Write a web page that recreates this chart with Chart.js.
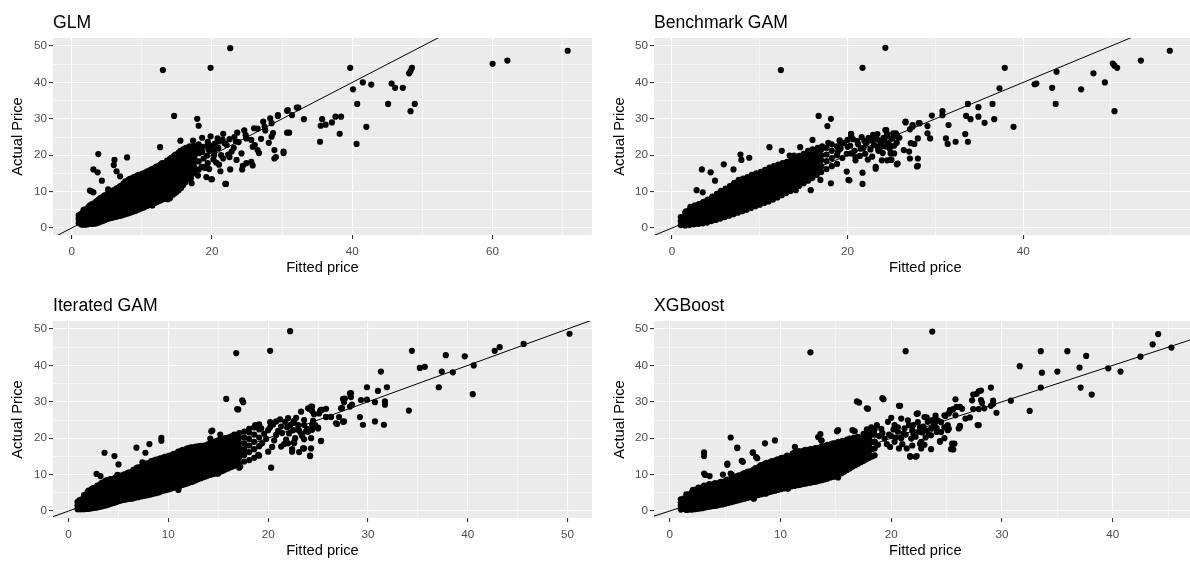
<!DOCTYPE html>
<html>
<head>
<meta charset="utf-8">
<script src="https://cdn.jsdelivr.net/npm/chart.js@4.4.1/dist/chart.umd.min.js"></script>
<style>
html,body{margin:0;padding:0;background:#fff;overflow:hidden;width:1190px;height:563px;position:relative}
.panel{position:absolute}
.panel canvas{display:block}
</style>
</head>
<body>
<div class="panel" style="left:0;top:0"><canvas id="glm" width="595" height="283"></canvas></div>
<div class="panel" style="left:595px;top:0"><canvas id="gam" width="610" height="283"></canvas></div>
<div class="panel" style="left:0;top:283px"><canvas id="iter" width="595" height="283"></canvas></div>
<div class="panel" style="left:595px;top:283px"><canvas id="xgb" width="610" height="283"></canvas></div>
<script>
// fitted vs actual price, one [fitted, actual] pair per point

const glmPoints = [
  // dense band
  [1.0,1.4],[1.0,2.5],[1.0,3.5],
  [1.3,1.0],[1.3,2.4],[1.3,3.8],
  [1.6,0.9],[1.6,2.0],[1.6,3.2],[1.6,4.4],[1.7,5.0],
  [1.95,0.9],[1.95,2.3],[1.95,3.7],[1.95,5.1],
  [2.3,1.0],[2.3,2.3],[2.2,3.5],[2.3,4.6],[2.4,5.8],
  [2.6,1.1],[2.6,2.5],[2.6,3.9],[2.6,5.3],[2.6,6.2],
  [2.9,1.2],[2.9,1.9],[2.8,3.1],[2.9,4.3],[3.0,5.5],[2.9,6.6],
  [3.2,1.2],[3.2,2.6],[3.2,4.0],[3.2,5.4],[3.2,6.8],
  [3.5,1.3],[3.5,2.5],[3.4,3.7],[3.5,4.9],[3.6,6.1],[3.5,7.3],
  [3.85,1.5],[3.85,2.9],[3.85,4.3],[3.85,5.7],[3.85,7.1],[3.85,7.8],
  [4.2,1.8],[4.2,3.0],[4.1,4.2],[4.2,5.4],[4.3,6.6],[4.2,7.8],[4.1,8.3],
  [4.5,2.0],[4.5,3.4],[4.5,4.8],[4.5,6.2],[4.5,7.6],[4.5,8.6],
  [4.8,2.3],[4.8,3.5],[4.7,4.7],[4.8,5.9],[4.9,7.1],[4.8,8.3],[4.7,9.0],
  [5.1,2.5],[5.1,3.9],[5.1,5.3],[5.1,6.7],[5.1,8.1],[5.1,9.4],
  [5.4,2.7],[5.4,3.9],[5.3,5.1],[5.4,6.3],[5.5,7.5],[5.4,8.7],[5.3,9.8],
  [5.75,2.8],[5.75,4.2],[5.75,5.6],[5.75,7.0],[5.75,8.4],[5.75,9.8],[5.75,10.1],
  [6.1,3.0],[6.1,4.3],[6.0,5.5],[6.1,6.7],[6.2,7.9],[6.1,9.1],[6.0,10.4],
  [6.4,3.1],[6.4,4.5],[6.4,5.9],[6.4,7.3],[6.4,8.7],[6.4,10.1],[6.4,10.9],
  [6.7,3.3],[6.7,4.8],[6.6,6.0],[6.7,7.2],[6.8,8.4],[6.7,9.6],[6.6,10.8],[6.8,11.3],
  [7.0,3.4],[7.0,4.8],[7.0,6.2],[7.0,7.6],[7.0,9.0],[7.0,10.4],[7.0,11.6],
  [7.3,3.6],[7.3,4.6],[7.2,5.8],[7.3,7.0],[7.4,8.2],[7.3,9.4],[7.2,10.6],[7.3,11.8],[7.4,12.3],
  [7.65,3.8],[7.65,5.2],[7.65,6.6],[7.65,8.0],[7.65,9.4],[7.65,10.8],[7.65,12.2],[7.65,12.8],
  [8.0,4.0],[8.0,5.1],[7.9,6.3],[8.0,7.5],[8.1,8.7],[8.0,9.9],[7.9,11.1],[8.0,12.3],[8.1,13.2],
  [8.3,4.2],[8.3,5.6],[8.3,7.0],[8.3,8.4],[8.3,9.8],[8.3,11.2],[8.3,12.6],[8.3,13.5],
  [8.6,4.4],[8.6,5.6],[8.5,6.8],[8.6,8.0],[8.7,9.2],[8.6,10.4],[8.5,11.6],[8.6,12.8],[8.7,13.8],
  [8.9,4.6],[8.9,6.0],[8.9,7.4],[8.9,8.8],[8.9,10.2],[8.9,11.6],[8.9,13.0],[8.9,14.0],
  [9.2,4.8],[9.2,5.9],[9.1,7.1],[9.2,8.3],[9.3,9.5],[9.2,10.7],[9.1,11.9],[9.2,13.1],[9.3,14.3],
  [9.55,5.1],[9.55,6.5],[9.55,7.9],[9.55,9.3],[9.55,10.7],[9.55,12.1],[9.55,13.5],[9.55,14.6],
  [9.9,5.4],[9.9,6.6],[9.8,7.8],[9.9,9.0],[10.0,10.2],[9.9,11.4],[9.8,12.6],[9.9,13.8],[10.0,14.8],
  [10.2,5.6],[10.2,7.0],[10.2,8.4],[10.2,9.8],[10.2,11.2],[10.2,12.6],[10.2,14.0],[10.2,15.0],
  [10.5,5.9],[10.5,7.0],[10.4,8.2],[10.5,9.4],[10.6,10.6],[10.5,11.8],[10.4,13.0],[10.5,14.2],[10.6,15.3],
  [10.8,6.1],[10.8,7.5],[10.8,8.9],[10.8,10.3],[10.8,11.7],[10.8,13.1],[10.8,14.5],[10.8,15.6],
  [11.1,6.4],[11.1,7.6],[11.0,8.8],[11.1,10.0],[11.2,11.2],[11.1,12.4],[11.0,13.6],[11.1,14.8],[11.2,15.9],
  [11.45,6.6],[11.45,8.0],[11.45,9.4],[11.45,10.8],[11.45,12.2],[11.45,13.6],[11.45,15.0],[11.45,16.2],
  [11.8,6.9],[11.8,8.0],[11.7,9.2],[11.8,10.4],[11.9,11.6],[11.8,12.8],[11.7,14.0],[11.8,15.2],[11.9,16.6],
  [12.1,7.1],[12.1,8.5],[12.1,9.9],[12.1,11.3],[12.1,12.7],[12.1,14.1],[12.1,15.5],[12.1,16.9],
  [12.4,7.4],[12.4,8.6],[12.3,9.8],[12.4,11.0],[12.5,12.2],[12.4,13.4],[12.3,14.6],[12.4,15.8],[12.5,17.2],
  [12.7,7.6],[12.7,9.0],[12.7,10.4],[12.7,11.8],[12.7,13.2],[12.7,14.6],[12.7,16.0],[12.7,17.4],
  [13.0,7.9],[13.0,9.0],[12.9,10.2],[13.0,11.4],[13.1,12.6],[13.0,13.8],[12.9,15.0],[13.0,16.2],[13.1,17.4],[12.9,17.8],
  [13.35,8.1],[13.35,9.5],[13.35,10.9],[13.35,12.3],[13.35,13.7],[13.35,15.1],[13.35,16.5],[13.35,17.9],
  [13.7,8.4],[13.7,9.6],[13.6,10.8],[13.7,12.0],[13.8,13.2],[13.7,14.4],[13.6,15.6],[13.7,16.8],[13.8,18.0],[13.6,18.5],
  [14.0,8.7],[14.0,10.1],[14.0,11.5],[14.0,12.9],[14.0,14.3],[14.0,15.7],[14.0,17.1],[14.0,18.5],[14.0,18.9],
  [14.3,9.0],[14.3,10.1],[14.2,11.3],[14.3,12.5],[14.4,13.7],[14.3,14.9],[14.2,16.1],[14.3,17.3],[14.4,18.5],[14.2,19.3],
  [14.6,9.4],[14.6,10.8],[14.6,12.2],[14.6,13.6],[14.6,15.0],[14.6,16.4],[14.6,17.8],[14.6,19.2],[14.6,19.8],
  [14.9,9.8],[14.9,11.0],[14.8,12.2],[14.9,13.4],[15.0,14.6],[14.9,15.8],[14.8,17.0],[14.9,18.2],[15.0,19.4],[14.8,20.2],
  [15.25,10.4],[15.25,11.8],[15.25,13.2],[15.25,14.6],[15.25,16.0],[15.25,17.4],[15.25,18.8],[15.25,20.2],[15.25,20.7],
  [15.6,11.0],[15.6,11.8],[15.5,13.0],[15.6,14.2],[15.7,15.4],[15.6,16.6],[15.5,17.8],[15.6,19.0],[15.7,20.2],[15.5,21.2],
  [15.9,11.8],[15.9,13.2],[15.9,14.6],[15.9,16.0],[15.9,17.4],[15.9,18.8],[15.9,20.2],[15.9,21.6],
  [16.2,12.6],[16.2,13.8],[16.1,15.0],[16.2,16.2],[16.3,17.4],[16.2,18.6],[16.1,19.8],[16.2,21.0],[16.3,22.0],
  [16.5,13.4],[16.5,14.8],[16.5,16.2],[16.5,17.6],[16.5,19.0],[16.5,20.4],[16.5,21.8],
  [16.8,14.2],[16.8,15.2],[16.7,16.4],[16.8,17.6],[16.9,18.8],[16.8,20.0],[16.7,21.2],[16.8,22.4],
  [17.15,14.8],[17.15,16.2],[17.15,17.6],[17.15,19.0],[17.15,20.4],[17.15,21.8],
  [17.5,15.4],[17.5,16.6],[17.4,17.8],[17.5,19.0],[17.6,20.2],[17.5,21.4],[17.4,22.6],
  [18.1,16.0],[18.1,18.3],[18.2,20.6],[18.0,21.8],[18.1,23.0],
  [18.7,16.8],[18.8,19.1],[18.6,20.9],[18.7,22.3],
  [19.4,17.8],[19.3,19.9],[19.5,21.6],[19.4,23.0],
  // scattered
  [17.3,24.0],[18.6,24.8],[19.8,25.2],[20.4,23.2],[20.9,22.0],[21.5,24.3],[19.7,21.2],[20.2,18.8],
  [21.0,17.4],[22.3,20.2],[23.4,23.8],[17.0,13.6],[19.6,16.2],[21.2,15.6],
  [22.6,49.4],[13.0,43.4],[19.8,44.0],[14.6,30.8],[17.9,30.0],[18.1,28.1],
  [3.8,20.3],[7.9,19.4],[3.1,16.1],[3.7,15.3],[4.3,13.0],[2.6,10.3],[3.1,9.8],[6.1,18.7],[6.0,17.3],
  [6.4,15.6],[6.9,14.2],[5.2,10.6],[2.8,10.1],[12.6,22.2],[15.5,24.0],[14.0,8.2],[11.4,6.3],
  [19.9,13.4],[22.0,12.1],[17.1,12.3],[18.5,16.7],[18.0,14.4],[19.2,14.0],[16.6,15.0],
  [21.6,25.9],[23.2,25.0],[24.6,26.8],[26.0,27.4],[27.3,29.2],[28.5,28.8],[29.4,31.0],[30.8,32.4],
  [32.1,33.1],[30.7,26.2],[30.2,21.0],[28.9,19.1],[28.9,21.4],[28.5,25.1],[26.5,21.4],[26.7,20.6],
  [25.6,18.2],[24.9,17.8],[24.4,17.1],[23.5,18.7],[22.6,16.1],[21.3,20.0],[20.4,21.4],[19.4,23.7],
  [20.0,22.6],[21.8,23.3],[23.1,22.0],[25.6,24.2],[26.1,22.8],[24.8,25.5],[22.5,24.4],[24.2,20.5],
  [21.6,19.1],[22.8,21.0],[20.8,24.6],[23.8,23.6],[27.0,24.5],[27.6,26.8],[28.1,23.4],[28.7,26.1],
  [29.1,19.5],[30.2,20.6],[25.8,22.3],[24.9,24.6],[22.5,19.5],[24.3,16.1],[25.8,17.2],[29.4,30.8],
  [28.3,30.1],[27.5,27.8],[26.5,27.3],[31.4,31.0],[30.7,32.2],[21.9,12.1],[20.0,13.4],[13.7,7.9],
  [11.5,6.2],[20.6,18.0],[19.0,16.5],[22.1,22.8],[23.6,26.2],[21.0,23.8],[20.3,20.0],
  [70.7,48.7],[60.0,45.1],[62.1,46.0],[39.7,44.0],[48.1,42.5],[48.3,43.1],[48.5,44.0],[41.5,40.0],
  [42.7,39.4],[40.1,38.1],[45.6,39.7],[46.1,38.5],[47.2,38.5],[40.7,34.1],[45.1,34.1],[48.9,34.1],
  [48.3,32.1],[42.0,27.8],[40.6,23.1],[38.2,25.9],[35.4,23.7],[35.5,28.1],[35.7,29.9],[36.2,28.4],
  [37.1,29.0],[37.6,30.6],[38.4,30.6],[33.1,29.9],[32.3,33.1],[31.0,26.2]
];

const gamPoints = [
  // dense band
  [1.0,0.8],[1.0,1.9],[1.0,3.0],
  [1.5,0.7],[1.5,1.8],[1.5,3.0],[1.5,4.2],[1.6,4.6],
  [2.0,0.8],[2.0,1.4],[2.0,2.6],[2.0,3.8],[2.0,5.0],[2.1,5.8],
  [2.5,1.0],[2.5,2.0],[2.5,3.2],[2.5,4.4],[2.5,5.6],[2.6,6.2],
  [3.0,1.1],[3.0,1.6],[3.0,2.8],[3.0,4.0],[3.0,5.2],[3.0,6.4],[3.1,6.6],
  [3.5,1.3],[3.5,2.2],[3.5,3.4],[3.5,4.6],[3.5,5.8],[3.5,7.0],[3.6,7.2],
  [4.0,1.5],[4.0,2.8],[4.0,4.0],[4.0,5.2],[4.0,6.4],[4.0,7.6],[4.1,7.8],
  [4.5,1.9],[4.5,3.2],[4.5,4.4],[4.5,5.6],[4.5,6.8],[4.5,8.0],[4.6,8.6],
  [5.0,2.2],[5.0,3.6],[5.0,4.8],[5.0,6.0],[5.0,7.2],[5.0,8.4],[5.1,9.4],
  [5.5,2.6],[5.5,3.8],[5.5,5.0],[5.5,6.2],[5.5,7.4],[5.5,8.6],[5.5,9.8],[5.6,10.2],
  [6.0,3.0],[6.0,4.2],[6.0,5.4],[6.0,6.6],[6.0,7.8],[6.0,9.0],[6.0,10.2],[6.1,10.8],
  [6.5,3.4],[6.5,4.6],[6.5,5.8],[6.5,7.0],[6.5,8.2],[6.5,9.4],[6.5,10.6],[6.6,11.5],
  [7.0,3.8],[7.0,4.8],[7.0,6.0],[7.0,7.2],[7.0,8.4],[7.0,9.6],[7.0,10.8],[7.0,12.0],[7.1,12.4],
  [7.5,4.2],[7.5,5.4],[7.5,6.6],[7.5,7.8],[7.5,9.0],[7.5,10.2],[7.5,11.4],[7.5,12.6],[7.6,13.2],
  [8.0,4.6],[8.0,5.6],[8.0,6.8],[8.0,8.0],[8.0,9.2],[8.0,10.4],[8.0,11.6],[8.0,12.8],[8.1,13.6],
  [8.5,5.0],[8.5,6.2],[8.5,7.4],[8.5,8.6],[8.5,9.8],[8.5,11.0],[8.5,12.2],[8.5,13.4],[8.6,14.0],
  [9.0,5.5],[9.0,6.6],[9.0,7.8],[9.0,9.0],[9.0,10.2],[9.0,11.4],[9.0,12.6],[9.0,13.8],[9.1,14.6],
  [9.5,6.0],[9.5,7.2],[9.5,8.4],[9.5,9.6],[9.5,10.8],[9.5,12.0],[9.5,13.2],[9.5,14.4],[9.6,15.0],
  [10.0,6.4],[10.0,7.6],[10.0,8.8],[10.0,10.0],[10.0,11.2],[10.0,12.4],[10.0,13.6],[10.0,14.8],[10.1,15.4],
  [10.5,6.9],[10.5,8.0],[10.5,9.2],[10.5,10.4],[10.5,11.6],[10.5,12.8],[10.5,14.0],[10.5,15.2],[10.6,16.0],
  [11.0,7.3],[11.0,8.6],[11.0,9.8],[11.0,11.0],[11.0,12.2],[11.0,13.4],[11.0,14.6],[11.0,15.8],[11.1,16.6],
  [11.5,7.8],[11.5,9.0],[11.5,10.2],[11.5,11.4],[11.5,12.6],[11.5,13.8],[11.5,15.0],[11.5,16.2],[11.6,17.0],
  [12.0,8.4],[12.0,9.6],[12.0,10.8],[12.0,12.0],[12.0,13.2],[12.0,14.4],[12.0,15.6],[12.0,16.8],[12.1,17.4],
  [12.5,9.0],[12.5,10.0],[12.5,11.2],[12.5,12.4],[12.5,13.6],[12.5,14.8],[12.5,16.0],[12.5,17.2],[12.6,17.8],
  [13.0,9.6],[13.0,10.6],[13.0,11.8],[13.0,13.0],[13.0,14.2],[13.0,15.4],[13.0,16.6],[13.0,17.8],[13.1,18.2],
  [13.5,10.2],[13.5,11.2],[13.5,12.4],[13.5,13.6],[13.5,14.8],[13.5,16.0],[13.5,17.2],[13.5,18.4],[13.6,18.6],
  [14.0,10.9],[14.0,11.8],[14.0,13.0],[14.0,14.2],[14.0,15.4],[14.0,16.6],[14.0,17.8],[14.0,19.0],[14.1,19.2],
  [14.5,11.6],[14.5,12.6],[14.5,13.8],[14.5,15.0],[14.5,16.2],[14.5,17.4],[14.5,18.6],[14.5,19.8],
  [15.0,12.3],[15.0,13.2],[15.0,14.4],[15.0,15.6],[15.0,16.8],[15.0,18.0],[15.0,19.2],[15.0,20.4],
  [15.5,13.0],[15.5,14.0],[15.5,15.2],[15.5,16.4],[15.5,17.6],[15.5,18.8],[15.5,20.0],[15.5,21.0],
  [16.0,13.8],[16.0,14.6],[16.0,15.8],[16.0,17.0],[16.0,18.2],[16.0,19.4],[16.0,20.6],[16.0,21.6],
  [16.5,14.6],[16.5,16.0],[16.5,17.4],[16.5,18.8],[16.5,20.2],[16.5,21.4],[16.6,22.0],
  [17.0,15.4],[17.0,17.0],[17.0,18.6],[17.0,20.0],[17.0,21.6],[17.1,22.4],
  [17.6,16.2],[17.6,18.4],[17.6,20.2],[17.6,22.0],
  [18.2,17.0],[18.2,19.2],[18.2,21.2],[18.2,23.0],
  [18.8,17.6],[18.8,20.0],[18.8,22.4],
  // cluster around 20-26
  [19.2,21.8],[19.6,23.4],[19.9,20.4],[20.3,22.6],[20.6,24.4],[20.8,21.2],[21.2,23.0],[21.4,19.8],
  [21.6,25.0],[21.8,22.0],[22.0,20.4],[22.2,23.6],[22.4,24.8],[22.6,21.6],[22.8,19.6],[23.0,22.8],
  [23.2,24.4],[23.4,25.8],[23.5,21.2],[23.8,23.4],[24.0,20.6],[24.1,24.8],[24.3,22.4],[24.5,25.8],
  [24.6,23.4],[24.8,21.8],[25.0,24.6],[25.2,26.0],[25.3,22.6],[24.4,26.9],[23.6,22.0],[22.9,25.6],
  [21.9,24.0],[20.4,25.4],[20.0,24.2],[19.4,19.2],[18.9,21.0],[20.9,18.6],[22.3,18.8],[23.9,18.6],
  [25.6,23.4],[25.9,24.8],[19.1,24.1],[19.4,23.2],[20.0,22.3],[20.4,20.5],[20.9,19.5],[21.5,21.8],
  [22.1,23.2],[22.7,24.1],[23.2,25.0],[23.6,24.1],[23.8,22.3],[24.2,24.1],[24.5,25.5],[24.7,23.2],
  [25.1,24.6],[24.9,20.5],[24.5,18.6],[23.2,16.8],[21.7,15.2],[21.7,12.1],[20.4,25.8],[24.3,26.9],
  [23.4,22.3],[20.2,13.1],[23.2,16.3],[25.7,17.7],[24.9,18.8],[27.9,16.9],[27.2,23.3],[26.6,29.2],
  [27.4,28.3],[28.1,28.8],[15.8,10.4],[14.1,10.4],[18.1,12.3],[20.1,13.2],[16.9,13.2],[15.8,13.7],
  [19.9,15.5],[19.1,23.9],[20.4,25.9],[21.1,23.9],[17.8,23.4],[16.0,24.2],
  // scattered
  [24.3,49.5],[12.4,43.4],[21.7,44.0],[16.7,30.8],[18.1,30.0],[17.7,28.0],
  [3.4,16.1],[4.4,15.3],[4.9,13.0],[5.9,17.5],[2.8,10.4],[3.5,9.8],[7.8,20.2],[7.9,18.7],[8.8,19.3],
  [7.0,16.1],[11.1,22.2],[12.5,21.2],[13.4,19.9],[13.9,19.9],[14.6,22.2],[15.5,21.2],
  [56.7,48.7],[53.4,46.0],[50.2,45.2],[50.4,44.6],[50.7,44.0],[48.0,42.5],[49.3,40.0],[46.6,38.1],
  [50.4,32.1],[43.3,38.5],[43.7,34.1],[43.8,42.9],[41.3,39.5],[41.5,39.7],[37.9,44.0],[37.3,38.4],
  [38.9,27.8],[36.5,34.1],[35.6,28.9],[36.7,29.9],[34.9,33.2],[34.9,30.6],[33.7,34.1],[33.5,30.8],
  [34.0,29.9],[33.4,25.8],[33.7,23.7],[32.3,23.7],[31.5,28.3],[31.2,24.6],[31.4,23.1],[30.8,32.1],
  [30.8,31.0],[29.6,30.9],[29.1,28.0],[29.1,26.0],[29.4,24.6],[28.2,28.8],[28.0,24.6],[28.0,19.1],
  [28.0,17.1],[27.6,23.1],[26.6,29.0],[27.1,27.1],[27.4,27.8],[26.4,21.4],[27.0,21.0],[27.1,19.1],
  [25.5,26.0],[25.7,25.1],[25.3,20.5],[25.0,18.7],[25.6,17.5],[24.7,22.3]
];

const iterPoints = [
  // dense band
  [0.9,0.5],[0.9,1.5],[0.9,2.5],
  [1.1,0.5],[1.1,1.9],[1.1,3.0],
  [1.3,0.5],[1.3,1.2],[1.3,2.2],[1.3,3.2],
  [1.55,0.5],[1.55,1.9],[1.55,3.3],[1.55,4.4],
  [1.8,0.6],[1.8,1.8],[1.8,3.0],[1.8,4.2],[1.9,5.2],
  [2.0,0.6],[2.0,2.0],[2.0,3.4],[2.0,4.8],[2.0,5.6],
  [2.2,0.7],[2.2,1.4],[2.2,2.6],[2.2,3.8],[2.2,5.0],[2.3,6.0],
  [2.45,0.8],[2.45,2.2],[2.45,3.6],[2.45,5.0],[2.45,6.3],
  [2.7,0.9],[2.7,2.0],[2.7,3.2],[2.7,4.4],[2.7,5.6],[2.8,6.6],
  [2.9,1.0],[2.9,2.4],[2.9,3.8],[2.9,5.2],[2.9,6.6],[2.9,7.0],
  [3.1,1.1],[3.1,1.6],[3.1,2.8],[3.1,4.0],[3.1,5.2],[3.1,6.4],[3.2,7.4],
  [3.35,1.3],[3.35,2.7],[3.35,4.1],[3.35,5.5],[3.35,6.9],[3.35,7.8],
  [3.6,1.5],[3.6,2.4],[3.6,3.6],[3.6,4.8],[3.6,6.0],[3.6,7.2],[3.7,8.3],
  [3.8,1.6],[3.8,3.0],[3.8,4.4],[3.8,5.8],[3.8,7.2],[3.8,8.4],
  [4.0,1.8],[4.0,3.0],[4.0,4.2],[4.0,5.4],[4.0,6.6],[4.0,7.8],[4.1,8.6],
  [4.25,2.0],[4.25,3.4],[4.25,4.8],[4.25,6.2],[4.25,7.6],[4.25,8.8],
  [4.5,2.2],[4.5,3.4],[4.5,4.6],[4.5,5.8],[4.5,7.0],[4.5,8.2],[4.6,9.0],
  [4.7,2.4],[4.7,3.8],[4.7,5.2],[4.7,6.6],[4.7,8.0],[4.7,9.2],
  [4.9,2.6],[4.9,3.8],[4.9,5.0],[4.9,6.2],[4.9,7.4],[4.9,8.6],[5.0,9.4],
  [5.15,2.8],[5.15,4.2],[5.15,5.6],[5.15,7.0],[5.15,8.4],[5.15,9.7],
  [5.4,3.0],[5.4,4.2],[5.4,5.4],[5.4,6.6],[5.4,7.8],[5.4,9.0],[5.5,9.9],
  [5.6,3.1],[5.6,4.5],[5.6,5.9],[5.6,7.3],[5.6,8.7],[5.6,10.1],
  [5.8,3.2],[5.8,4.4],[5.8,5.6],[5.8,6.8],[5.8,8.0],[5.8,9.2],[5.9,10.4],
  [6.05,3.3],[6.05,4.7],[6.05,6.1],[6.05,7.5],[6.05,8.9],[6.05,10.3],[6.05,10.6],
  [6.3,3.4],[6.3,4.8],[6.3,6.0],[6.3,7.2],[6.3,8.4],[6.3,9.6],[6.4,10.8],
  [6.5,3.5],[6.5,4.9],[6.5,6.3],[6.5,7.7],[6.5,9.1],[6.5,10.5],[6.5,11.3],
  [6.7,3.7],[6.7,5.0],[6.7,6.2],[6.7,7.4],[6.7,8.6],[6.7,9.8],[6.7,11.0],[6.8,11.8],
  [6.95,3.8],[6.95,5.2],[6.95,6.6],[6.95,8.0],[6.95,9.4],[6.95,10.8],[6.95,12.0],
  [7.2,4.0],[7.2,5.2],[7.2,6.4],[7.2,7.6],[7.2,8.8],[7.2,10.0],[7.2,11.2],[7.3,12.2],
  [7.4,4.1],[7.4,5.5],[7.4,6.9],[7.4,8.3],[7.4,9.7],[7.4,11.1],[7.4,12.5],
  [7.6,4.2],[7.6,5.5],[7.6,6.7],[7.6,7.9],[7.6,9.1],[7.6,10.3],[7.6,11.5],[7.7,12.7],
  [7.85,4.3],[7.85,5.7],[7.85,7.1],[7.85,8.5],[7.85,9.9],[7.85,11.3],[7.85,12.7],[7.85,13.1],
  [8.1,4.5],[8.1,5.8],[8.1,7.0],[8.1,8.2],[8.1,9.4],[8.1,10.6],[8.1,11.8],[8.1,13.0],[8.2,13.4],
  [8.3,4.6],[8.3,6.0],[8.3,7.4],[8.3,8.8],[8.3,10.2],[8.3,11.6],[8.3,13.0],[8.3,13.7],
  [8.5,4.8],[8.5,6.0],[8.5,7.2],[8.5,8.4],[8.5,9.6],[8.5,10.8],[8.5,12.0],[8.5,13.2],[8.6,13.9],
  [8.75,4.9],[8.75,6.3],[8.75,7.7],[8.75,9.1],[8.75,10.5],[8.75,11.9],[8.75,13.3],[8.75,14.1],
  [9.0,5.1],[9.0,6.4],[9.0,7.6],[9.0,8.8],[9.0,10.0],[9.0,11.2],[9.0,12.4],[9.0,13.6],[9.1,14.3],
  [9.2,5.3],[9.2,6.7],[9.2,8.1],[9.2,9.5],[9.2,10.9],[9.2,12.3],[9.2,13.7],[9.2,14.5],
  [9.4,5.5],[9.4,6.7],[9.4,7.9],[9.4,9.1],[9.4,10.3],[9.4,11.5],[9.4,12.7],[9.4,13.9],[9.5,14.7],
  [9.65,5.7],[9.65,7.1],[9.65,8.5],[9.65,9.9],[9.65,11.3],[9.65,12.7],[9.65,14.1],[9.65,14.9],
  [9.9,5.9],[9.9,7.0],[9.9,8.2],[9.9,9.4],[9.9,10.6],[9.9,11.8],[9.9,13.0],[9.9,14.2],[10.0,15.1],
  [10.1,6.0],[10.1,7.4],[10.1,8.8],[10.1,10.2],[10.1,11.6],[10.1,13.0],[10.1,14.4],[10.1,15.2],
  [10.3,6.2],[10.3,7.4],[10.3,8.6],[10.3,9.8],[10.3,11.0],[10.3,12.2],[10.3,13.4],[10.3,14.6],[10.4,15.4],
  [10.55,6.4],[10.55,7.8],[10.55,9.2],[10.55,10.6],[10.55,12.0],[10.55,13.4],[10.55,14.8],[10.55,15.7],
  [10.8,6.6],[10.8,7.8],[10.8,9.0],[10.8,10.2],[10.8,11.4],[10.8,12.6],[10.8,13.8],[10.8,15.0],[10.9,16.0],
  [11.0,6.8],[11.0,8.2],[11.0,9.6],[11.0,11.0],[11.0,12.4],[11.0,13.8],[11.0,15.2],[11.0,16.3],
  [11.2,7.0],[11.2,8.2],[11.2,9.4],[11.2,10.6],[11.2,11.8],[11.2,13.0],[11.2,14.2],[11.2,15.4],[11.3,16.6],
  [11.45,7.2],[11.45,8.6],[11.45,10.0],[11.45,11.4],[11.45,12.8],[11.45,14.2],[11.45,15.6],[11.45,16.8],
  [11.7,7.4],[11.7,8.6],[11.7,9.8],[11.7,11.0],[11.7,12.2],[11.7,13.4],[11.7,14.6],[11.7,15.8],[11.8,17.0],
  [11.9,7.6],[11.9,9.0],[11.9,10.4],[11.9,11.8],[11.9,13.2],[11.9,14.6],[11.9,16.0],[11.9,17.2],
  [12.1,7.8],[12.1,9.0],[12.1,10.2],[12.1,11.4],[12.1,12.6],[12.1,13.8],[12.1,15.0],[12.1,16.2],[12.2,17.4],
  [12.35,8.0],[12.35,9.4],[12.35,10.8],[12.35,12.2],[12.35,13.6],[12.35,15.0],[12.35,16.4],[12.35,17.5],
  [12.6,8.3],[12.6,9.4],[12.6,10.6],[12.6,11.8],[12.6,13.0],[12.6,14.2],[12.6,15.4],[12.6,16.6],[12.7,17.6],
  [12.8,8.5],[12.8,9.9],[12.8,11.3],[12.8,12.7],[12.8,14.1],[12.8,15.5],[12.8,16.9],[12.8,17.7],
  [13.0,8.8],[13.0,9.8],[13.0,11.0],[13.0,12.2],[13.0,13.4],[13.0,14.6],[13.0,15.8],[13.0,17.0],[13.1,17.8],
  [13.25,9.0],[13.25,10.4],[13.25,11.8],[13.25,13.2],[13.25,14.6],[13.25,16.0],[13.25,17.4],[13.25,17.9],
  [13.5,9.3],[13.5,10.4],[13.5,11.6],[13.5,12.8],[13.5,14.0],[13.5,15.2],[13.5,16.4],[13.5,17.6],[13.6,18.0],
  [13.7,9.5],[13.7,10.9],[13.7,12.3],[13.7,13.7],[13.7,15.1],[13.7,16.5],[13.7,17.9],
  [13.9,9.7],[13.9,10.8],[13.9,12.0],[13.9,13.2],[13.9,14.4],[13.9,15.6],[13.9,16.8],[13.9,18.0],[14.0,18.4],
  [14.15,9.9],[14.15,11.3],[14.15,12.7],[14.15,14.1],[14.15,15.5],[14.15,16.9],[14.15,18.3],
  [14.4,10.1],[14.4,11.3],[14.4,12.5],[14.4,13.7],[14.4,14.9],[14.4,16.1],[14.4,17.3],[14.4,18.5],[14.5,18.9],
  [14.6,10.3],[14.6,11.7],[14.6,13.1],[14.6,14.5],[14.6,15.9],[14.6,17.3],[14.6,18.7],[14.6,19.1],
  [14.8,10.5],[14.8,11.7],[14.8,12.9],[14.8,14.1],[14.8,15.3],[14.8,16.5],[14.8,17.7],[14.8,18.9],[14.9,19.3],
  [15.05,10.7],[15.05,12.1],[15.05,13.5],[15.05,14.9],[15.05,16.3],[15.05,17.7],[15.05,19.1],[15.05,19.5],
  [15.3,10.9],[15.3,12.1],[15.3,13.3],[15.3,14.5],[15.3,15.7],[15.3,16.9],[15.3,18.1],[15.3,19.3],[15.4,19.6],
  [15.5,11.1],[15.5,12.5],[15.5,13.9],[15.5,15.3],[15.5,16.7],[15.5,18.1],[15.5,19.5],[15.5,19.9],
  [15.7,11.4],[15.7,12.6],[15.7,13.8],[15.7,15.0],[15.7,16.2],[15.7,17.4],[15.7,18.6],[15.7,19.8],[15.8,20.1],
  [15.95,11.7],[15.95,13.1],[15.95,14.5],[15.95,15.9],[15.95,17.3],[15.95,18.7],[15.95,20.1],
  [16.2,12.0],[16.2,13.2],[16.2,14.4],[16.2,15.6],[16.2,16.8],[16.2,18.0],[16.2,19.2],[16.2,20.4],
  [16.4,12.2],[16.4,13.6],[16.4,15.0],[16.4,16.4],[16.4,17.8],[16.4,19.2],[16.4,20.6],
  [16.6,12.4],[16.6,13.8],[16.6,15.0],[16.6,16.2],[16.6,17.4],[16.6,18.6],[16.6,19.8],[16.6,21.0],
  [16.85,12.7],[16.85,14.2],[16.85,15.7],[16.85,17.2],[16.85,18.7],[16.85,20.2],
  [17.1,13.0],[17.1,14.6],[17.1,16.0],[17.1,17.4],[17.1,18.8],[17.1,20.2],[17.1,21.4],
  [17.6,13.6],[17.6,15.4],[17.6,17.0],[17.6,18.6],[17.6,20.2],[17.6,21.8],
  [18.1,14.0],[18.1,16.2],[18.1,18.0],[18.1,19.8],[18.1,21.6],[18.1,22.6],
  [18.6,14.6],[18.6,17.0],[18.6,19.0],[18.6,21.0],[18.6,23.0],
  [19.1,15.2],[19.1,17.8],[19.1,20.2],[19.1,22.4],[19.1,23.8],
  // cluster around 20-28
  [19.6,21.2],[20.2,23.0],[20.8,24.6],[21.4,21.4],[21.9,23.0],[22.6,24.8],[23.0,23.6],[23.4,20.6],
  [23.9,22.6],[24.5,24.8],[20.4,17.6],[21.6,18.4],[19.4,18.6],
  [18.7,23.6],[19.3,22.7],[20.0,22.2],[20.5,23.8],[20.8,20.9],[21.3,23.2],[21.7,24.5],[22.0,25.5],
  [22.2,23.6],[22.5,22.2],[22.8,25.6],[23.3,27.3],[23.6,25.0],[24.0,28.2],[24.3,28.7],[24.7,23.6],
  [25.0,22.7],[25.3,27.8],[25.8,25.9],[26.3,25.9],[26.8,24.1],[27.3,28.2],[27.7,30.9],[28.2,32.3],
  [28.2,28.7],[27.5,24.5],[25.3,19.2],[23.6,17.2],[24.2,15.2],[23.3,21.3],[24.0,21.8],[22.7,20.0],
  [21.3,17.7],[22.0,18.6],[20.3,11.9],[20.0,16.3],[19.0,15.4],[17.2,12.2],[16.8,13.4],[14.8,10.3],
  [11.0,5.8],[22.5,24.2],[23.0,22.4],[22.1,21.3],[23.6,23.6],[21.0,22.0],[21.8,19.6],[22.6,19.0],
  [23.1,16.2],[22.4,17.0],[20.6,19.4],[24.6,26.6],[25.1,26.8],[21.2,25.2],[20.2,24.4],[19.8,19.8],
  // scattered
  [22.2,49.4],[16.8,43.4],[20.2,44.0],[15.8,30.8],[16.9,28.0],[17.4,30.4],
  [3.6,16.0],[4.6,15.1],[5.0,12.8],[2.8,10.2],[3.2,9.6],[4.9,9.9],[6.8,17.4],[8.1,18.4],[9.3,20.1],
  [9.3,19.3],[7.7,16.0],[7.4,13.4],[9.5,11.5],[12.1,16.9],[12.7,17.2],[14.3,21.9],[15.2,21.0],
  [14.2,19.9],[17.0,27.9],[17.5,29.9],[13.5,10.1],[15.0,10.3],[14.4,22.1],[14.9,10.4],
  [11.0,6.1],[16.8,13.1],[17.1,11.9],
  [50.2,48.7],[45.6,45.9],[42.7,44.0],[43.2,45.0],[34.4,44.0],[37.8,42.8],[39.7,42.5],[35.2,39.3],
  [35.7,39.6],[31.3,38.3],[37.4,38.3],[38.5,38.1],[40.6,40.0],[37.1,34.0],[40.5,32.1],[34.1,27.6],
  [29.9,34.0],[31.9,34.0],[31.0,33.0],[27.5,30.8],[27.6,29.9],[28.3,32.4],[28.3,31.3],[28.4,29.2],
  [29.3,30.5],[29.9,30.6],[30.7,29.9],[31.7,30.1],[31.7,29.2],[29.2,25.8],[29.5,23.7],[30.7,24.6],
  [31.6,23.7],[27.4,28.3],[27.1,25.8],[26.9,23.9],[27.6,24.6],[26.3,25.8],[25.8,25.8],[25.4,27.8],
  [25.8,28.1],[25.2,27.5],[25.3,19.3],[25.0,22.9],[24.4,28.7],[24.4,27.5],[24.1,28.1],[24.4,23.7],
  [24.4,22.3],[24.3,17.2],[24.2,15.1],[24.3,20.0],[23.8,21.9],[23.6,19.7],[23.5,17.2],[23.1,22.1],
  [22.6,18.6],[22.4,16.3]
];

const xgbPoints = [
  // dense band
  [1.0,0.4],[1.0,1.4],[1.0,2.4],[1.0,3.2],
  [1.25,0.6],[1.25,2.0],[1.25,3.4],
  [1.5,0.3],[1.5,1.0],[1.5,2.2],[1.5,3.4],[1.5,4.6],
  [1.75,0.4],[1.75,1.8],[1.75,3.2],[1.75,4.6],
  [2.0,0.4],[2.0,1.6],[2.0,2.8],[2.0,4.0],[2.0,5.2],[2.1,5.8],
  [2.25,0.5],[2.25,2.0],[2.25,3.4],[2.25,4.8],[2.25,5.8],
  [2.5,0.6],[2.5,1.2],[2.5,2.4],[2.5,3.6],[2.5,4.8],[2.5,6.0],[2.6,6.4],
  [2.75,0.7],[2.75,2.1],[2.75,3.5],[2.75,4.9],[2.75,6.3],
  [3.0,0.8],[3.0,1.8],[3.0,3.0],[3.0,4.2],[3.0,5.4],[3.0,6.6],[3.1,7.0],
  [3.25,1.0],[3.25,2.4],[3.25,3.8],[3.25,5.2],[3.25,6.6],
  [3.5,1.1],[3.5,2.4],[3.5,3.6],[3.5,4.8],[3.5,6.0],[3.5,7.2],[3.6,7.4],
  [3.75,1.3],[3.75,2.7],[3.75,4.1],[3.75,5.5],[3.75,6.9],
  [4.0,1.4],[4.0,2.6],[4.0,3.8],[4.0,5.0],[4.0,6.2],[4.0,7.4],[4.1,7.7],
  [4.25,1.5],[4.25,2.9],[4.25,4.3],[4.25,5.7],[4.25,7.1],
  [4.5,1.7],[4.5,3.0],[4.5,4.2],[4.5,5.4],[4.5,6.6],[4.5,7.8],[4.6,8.0],
  [4.75,1.8],[4.75,3.2],[4.75,4.6],[4.75,6.0],[4.75,7.4],[4.75,8.0],
  [5.0,2.0],[5.0,3.2],[5.0,4.4],[5.0,5.6],[5.0,6.8],[5.0,8.0],[5.1,8.5],
  [5.25,2.2],[5.25,3.6],[5.25,5.0],[5.25,6.4],[5.25,7.8],[5.25,8.6],
  [5.5,2.4],[5.5,3.6],[5.5,4.8],[5.5,6.0],[5.5,7.2],[5.5,8.4],[5.6,9.0],
  [5.75,2.6],[5.75,4.0],[5.75,5.4],[5.75,6.8],[5.75,8.2],[5.75,9.2],
  [6.0,2.8],[6.0,3.9],[6.0,5.1],[6.0,6.3],[6.0,7.5],[6.0,8.7],[6.1,9.6],
  [6.25,3.0],[6.25,4.4],[6.25,5.8],[6.25,7.2],[6.25,8.6],[6.25,9.8],
  [6.5,3.2],[6.5,4.4],[6.5,5.6],[6.5,6.8],[6.5,8.0],[6.5,9.2],[6.6,10.2],
  [6.75,3.4],[6.75,4.8],[6.75,6.2],[6.75,7.6],[6.75,9.0],[6.75,10.4],
  [7.0,3.6],[7.0,4.7],[7.0,5.9],[7.0,7.1],[7.0,8.3],[7.0,9.5],[7.0,10.7],[7.1,10.8],
  [7.25,3.8],[7.25,5.2],[7.25,6.6],[7.25,8.0],[7.25,9.4],[7.25,10.8],
  [7.5,4.0],[7.5,5.2],[7.5,6.4],[7.5,7.6],[7.5,8.8],[7.5,10.0],[7.5,11.2],[7.6,11.4],
  [7.75,4.2],[7.75,5.6],[7.75,7.0],[7.75,8.4],[7.75,9.8],[7.75,11.2],[7.75,11.8],
  [8.0,4.4],[8.0,5.4],[8.0,6.6],[8.0,7.8],[8.0,9.0],[8.0,10.2],[8.0,11.4],[8.1,12.3],
  [8.25,4.6],[8.25,6.0],[8.25,7.4],[8.25,8.8],[8.25,10.2],[8.25,11.6],[8.25,12.6],
  [8.5,4.8],[8.5,6.0],[8.5,7.2],[8.5,8.4],[8.5,9.6],[8.5,10.8],[8.5,12.0],[8.6,13.0],
  [8.75,5.0],[8.75,6.4],[8.75,7.8],[8.75,9.2],[8.75,10.6],[8.75,12.0],[8.75,13.2],
  [9.0,5.2],[9.0,6.3],[9.0,7.5],[9.0,8.7],[9.0,9.9],[9.0,11.1],[9.0,12.3],[9.1,13.5],
  [9.25,5.4],[9.25,6.8],[9.25,8.2],[9.25,9.6],[9.25,11.0],[9.25,12.4],[9.25,13.7],
  [9.5,5.6],[9.5,6.8],[9.5,8.0],[9.5,9.2],[9.5,10.4],[9.5,11.6],[9.5,12.8],[9.6,14.0],
  [9.75,5.8],[9.75,7.2],[9.75,8.6],[9.75,10.0],[9.75,11.4],[9.75,12.8],[9.75,14.2],
  [10.0,6.0],[10.0,7.1],[10.0,8.3],[10.0,9.5],[10.0,10.7],[10.0,11.9],[10.0,13.1],[10.0,14.3],[10.1,14.6],
  [10.25,6.2],[10.25,7.6],[10.25,9.0],[10.25,10.4],[10.25,11.8],[10.25,13.2],[10.25,14.6],
  [10.5,6.4],[10.5,7.6],[10.5,8.8],[10.5,10.0],[10.5,11.2],[10.5,12.4],[10.5,13.6],[10.5,14.8],[10.6,15.2],
  [10.75,6.6],[10.75,8.0],[10.75,9.4],[10.75,10.8],[10.75,12.2],[10.75,13.6],[10.75,15.0],
  [11.0,6.8],[11.0,7.9],[11.0,9.1],[11.0,10.3],[11.0,11.5],[11.0,12.7],[11.0,13.9],[11.0,15.1],[11.1,15.8],
  [11.25,6.9],[11.25,8.3],[11.25,9.7],[11.25,11.1],[11.25,12.5],[11.25,13.9],[11.25,15.3],[11.25,16.0],
  [11.5,7.1],[11.5,8.3],[11.5,9.5],[11.5,10.7],[11.5,11.9],[11.5,13.1],[11.5,14.3],[11.5,15.5],[11.6,16.2],
  [11.75,7.2],[11.75,8.6],[11.75,10.0],[11.75,11.4],[11.75,12.8],[11.75,14.2],[11.75,15.6],[11.75,16.4],
  [12.0,7.4],[12.0,8.6],[12.0,9.8],[12.0,11.0],[12.0,12.2],[12.0,13.4],[12.0,14.6],[12.0,15.8],[12.1,16.6],
  [12.25,7.5],[12.25,8.9],[12.25,10.3],[12.25,11.7],[12.25,13.1],[12.25,14.5],[12.25,15.9],[12.25,16.8],
  [12.5,7.7],[12.5,8.9],[12.5,10.1],[12.5,11.3],[12.5,12.5],[12.5,13.7],[12.5,14.9],[12.5,16.1],[12.6,16.9],
  [12.75,7.8],[12.75,9.2],[12.75,10.6],[12.75,12.0],[12.75,13.4],[12.75,14.8],[12.75,16.2],[12.75,17.0],
  [13.0,8.0],[13.0,9.2],[13.0,10.4],[13.0,11.6],[13.0,12.8],[13.0,14.0],[13.0,15.2],[13.0,16.4],[13.1,17.2],
  [13.25,8.1],[13.25,9.5],[13.25,10.9],[13.25,12.3],[13.25,13.7],[13.25,15.1],[13.25,16.5],[13.25,17.3],
  [13.5,8.3],[13.5,9.5],[13.5,10.7],[13.5,11.9],[13.5,13.1],[13.5,14.3],[13.5,15.5],[13.5,16.7],[13.6,17.5],
  [13.75,8.5],[13.75,9.9],[13.75,11.3],[13.75,12.7],[13.75,14.1],[13.75,15.5],[13.75,16.9],[13.75,17.7],
  [14.0,8.7],[14.0,9.9],[14.0,11.1],[14.0,12.3],[14.0,13.5],[14.0,14.7],[14.0,15.9],[14.0,17.1],[14.1,17.9],
  [14.25,8.9],[14.25,10.3],[14.25,11.7],[14.25,13.1],[14.25,14.5],[14.25,15.9],[14.25,17.3],[14.25,18.2],
  [14.5,9.2],[14.5,10.4],[14.5,11.6],[14.5,12.8],[14.5,14.0],[14.5,15.2],[14.5,16.4],[14.5,17.6],[14.6,18.4],
  [14.75,9.4],[14.75,10.8],[14.75,12.2],[14.75,13.6],[14.75,15.0],[14.75,16.4],[14.75,17.8],[14.75,18.6],
  [15.0,9.7],[15.0,10.8],[15.0,12.0],[15.0,13.2],[15.0,14.4],[15.0,15.6],[15.0,16.8],[15.0,18.0],[15.1,18.8],
  [15.25,10.0],[15.25,11.4],[15.25,12.8],[15.25,14.2],[15.25,15.6],[15.25,17.0],[15.25,18.4],[15.25,19.0],
  [15.5,10.4],[15.5,11.6],[15.5,12.8],[15.5,14.0],[15.5,15.2],[15.5,16.4],[15.5,17.6],[15.5,18.8],[15.6,19.3],
  [15.75,10.8],[15.75,12.2],[15.75,13.6],[15.75,15.0],[15.75,16.4],[15.75,17.8],[15.75,19.2],
  [16.0,11.3],[16.0,12.4],[16.0,13.6],[16.0,14.8],[16.0,16.0],[16.0,17.2],[16.0,18.4],[16.0,19.6],
  [16.25,11.7],[16.25,13.1],[16.25,14.5],[16.25,15.9],[16.25,17.3],[16.25,18.7],[16.25,19.9],
  [16.5,12.2],[16.5,13.4],[16.5,14.6],[16.5,15.8],[16.5,17.0],[16.5,18.2],[16.5,19.4],[16.6,20.1],
  [16.75,12.6],[16.75,14.0],[16.75,15.4],[16.75,16.8],[16.75,18.2],[16.75,19.6],
  [17.0,13.0],[17.0,14.6],[17.0,16.0],[17.0,17.4],[17.0,18.8],[17.0,20.4],
  [17.25,13.4],[17.25,15.0],[17.25,16.6],[17.25,18.2],[17.25,19.8],
  [17.5,13.8],[17.5,15.4],[17.5,17.0],[17.5,18.6],[17.5,20.2],[17.5,21.2],
  [17.75,14.2],[17.75,16.0],[17.75,17.8],[17.75,19.6],[17.75,21.0],
  [18.0,14.6],[18.0,16.4],[18.0,18.2],[18.0,20.0],[18.0,21.8],
  [18.25,15.0],[18.25,17.0],[18.25,19.0],[18.25,21.0],
  [18.5,15.3],[18.5,17.2],[18.5,19.1],[18.5,21.0],[18.5,22.4],
  // cluster around 19-28
  [20.0,20.6],[20.2,22.4],[20.6,23.0],[20.9,20.0],[21.3,21.0],[21.6,23.6],[21.9,22.2],[22.2,20.4],
  [22.5,21.8],[22.9,23.2],[23.1,20.2],[23.4,21.0],[23.8,24.2],[24.1,22.8],[24.5,24.4],[19.6,18.4],
  [20.7,17.2],[21.9,18.0],[23.0,18.2],[19.2,21.4],[18.9,20.6],[18.2,23.0],[17.8,22.4],[18.8,18.2],
  [23.6,17.0],[24.8,20.0],
  [17.1,29.8],[17.9,28.1],[19.3,30.7],[20.8,28.9],[18.7,23.6],[19.1,22.6],[19.7,24.5],[20.3,23.6],
  [20.9,25.4],[21.5,24.9],[22.3,26.7],[23.0,25.8],[23.3,24.5],[23.9,23.6],[24.2,24.9],[24.8,26.3],
  [25.3,27.7],[25.9,28.6],[26.4,28.1],[27.3,30.4],[27.7,32.2],[28.1,33.1],[27.9,23.6],[26.2,23.1],
  [25.8,26.3],[25.2,22.6],[24.5,21.7],[23.6,20.8],[22.7,19.0],[21.8,19.9],[21.1,21.3],[20.3,19.0],
  [19.9,17.6],[19.4,19.9],[18.5,19.0],[21.7,15.1],[22.3,15.1],[25.6,16.9],[25.5,18.5],[24.4,19.0],
  [23.2,22.1],[22.6,23.0],[22.0,23.6],[21.2,22.7],[20.6,21.8],[19.8,21.0],[20.4,20.2],[21.0,18.4],
  [22.0,21.2],[22.8,21.6],[23.6,22.6],[24.8,23.0],[21.4,17.2],[20.0,25.6],[22.4,24.4],[24.0,26.2],
  // scattered
  [12.7,43.6],[16.9,30.1],[17.8,28.2],[19.2,31.0],[5.5,20.2],[6.1,17.4],[3.1,16.1],[3.1,15.1],
  [3.1,10.3],[3.6,9.6],[5.2,13.0],[5.5,10.3],[6.5,13.8],[7.5,16.1],[7.9,14.5],[8.6,18.6],[9.5,19.4],
  [7.5,3.7],[8.7,4.8],[10.6,6.2],[15.1,9.4],[15.2,22.2],[16.5,22.2],[13.6,21.1],[13.7,19.3],
  [15.2,9.2],[10.7,6.2],[7.6,3.4],[3.2,9.9],[5.2,12.7],[6.1,17.3],[6.6,13.5],[4.8,10.0],[5.6,10.0],
  [7.5,16.0],[7.8,14.8],[13.4,20.3],[13.7,19.4],[15.1,21.9],[16.7,21.9],[17.6,21.0],[11.3,17.6],
  [11.6,16.4],[12.4,16.1],
  [45.3,44.9],[44.1,48.6],[43.6,45.8],[42.5,42.4],[39.6,39.2],[40.7,38.3],[38.1,32.0],[37.1,33.9],
  [37.6,42.6],[37.0,39.4],[35.9,43.9],[35.0,38.3],[33.6,38.0],[33.5,43.9],[33.5,33.9],[31.6,39.8],
  [32.5,27.5],[30.8,30.3],[29.0,33.9],[29.2,30.3],[29.2,29.4],[29.5,27.0],[29.0,28.9],[27.9,32.9],
  [27.4,32.0],[28.1,30.5],[28.2,29.7],[28.4,28.2],[27.9,28.0],[27.4,28.0],[27.1,25.7],[27.8,23.6],
  [26.7,25.4],[26.2,28.6],[25.8,30.7],[26.2,23.4],[26.1,22.7],[25.4,27.7],[25.6,28.0],[25.2,26.8],
  [24.9,26.1],[25.1,23.6],[25.1,22.2],[25.7,18.5],[25.4,17.0],[24.4,19.2],[24.1,21.7],[24.0,24.5],
  [23.7,25.0],[23.2,25.7],[22.4,26.8],[22.2,14.9],[21.7,14.9],[22.7,17.2],[22.6,18.5],[20.7,28.9],
  [21.3,43.9],[23.7,49.3]
];

// y = x reference line, and grid positions
const diagonal = [-10, 100];
const yTicks = [0,5,10,15,20,25,30,35,40,45,50];
const glmXTicks = [0,10,20,30,40,50,60,70];
const gamXTicks = [0,10,20,30,40,50];
const iterXTicks = [0,5,10,15,20,25,30,35,40,45,50];
const xgbXTicks = [0,5,10,15,20,25,30,35,40,45];

const FONT = '"Liberation Sans", Arial, sans-serif';

const panelDecor = {
  id: 'panelDecor',
  beforeDraw(chart) {
    const a = chart.chartArea, c = chart.ctx;
    c.save();
    c.fillStyle = '#ebebeb';
    c.fillRect(a.left, a.top, a.right - a.left, a.bottom - a.top);
    c.restore();
  },
  afterDraw(chart, args, opts) {
    const c = chart.ctx;
    c.save();
    c.font = '17.6px ' + FONT;
    c.fillStyle = '#000';
    c.textBaseline = 'alphabetic';
    c.textAlign = 'left';
    c.fillText(opts.title, chart.chartArea.left, 28);
    c.restore();
  }
};

function isMajor(v, step) {
  return Math.abs(v % step) < 1e-9;
}

function axisOpts(min, max, ticks, step, label, fit, titlePad) {
  return {
    type: 'linear',
    min: min,
    max: max,
    afterBuildTicks: s => { s.ticks = ticks.map(v => ({value: v})); },
    afterFit: fit,
    border: {display: false},
    grid: {
      color: '#ffffff',
      lineWidth: c => (c.tick && isMajor(c.tick.value, step)) ? 1.1 : 0.55,
      tickColor: c => (c.tick && isMajor(c.tick.value, step)) ? '#333333' : 'rgba(0,0,0,0)',
      tickLength: 4,
      tickWidth: 1.1
    },
    ticks: {
      autoSkip: false,
      maxRotation: 0,
      padding: 2,
      color: '#4d4d4d',
      font: {family: FONT, size: 11.7},
      callback: v => isMajor(v, step) ? String(v) : ''
    },
    title: {display: true, text: label, color: '#000', font: {family: FONT, size: 14.7}, padding: titlePad}
  };
}

function makePanel(id, title, points, xMin, xMax, xTicks, xStep, axisW, yTitleGap, padRight) {
  const xAxis = axisOpts(xMin, xMax, xTicks, xStep, 'Fitted price', s => { s.height = 48; }, {top: 0, bottom: 6});
  xAxis.ticks.padding = 6;
  const yAxis = axisOpts(-1.92, 52.2, yTicks, 10, 'Actual Price', s => { s.width = axisW; }, {top: yTitleGap, bottom: 0});
  return new Chart(document.getElementById(id), {
    type: 'scatter',
    data: {
      datasets: [
        {
          type: 'line',
          data: diagonal.map(v => ({x: v, y: v})),
          borderColor: '#000',
          borderWidth: 1,
          pointRadius: 0,
          order: 0
        },
        {
          data: points.map(p => ({x: p[0], y: p[1]})),
          pointRadius: 3.1,
          pointHoverRadius: 3.1,
          pointBackgroundColor: '#000',
          pointBorderWidth: 0,
          order: 1
        }
      ]
    },
    options: {
      responsive: false,
      animation: false,
      devicePixelRatio: 1,
      events: [],
      layout: {padding: {top: 38, right: padRight, bottom: 0, left: 0}},
      plugins: {
        legend: {display: false},
        tooltip: {enabled: false},
        panelDecor: {title: title}
      },
      scales: {x: xAxis, y: yAxis}
    },
    plugins: [panelDecor]
  });
}

makePanel('glm', 'GLM', glmPoints, -2.66, 74.15, glmXTicks, 20, 53, 9.5, 2);
makePanel('gam', 'Benchmark GAM', gamPoints, -2.05, 59.75, gamXTicks, 20, 59, 16.2, 8.4);
makePanel('iter', 'Iterated GAM', iterPoints, -1.56, 52.44, iterXTicks, 10, 53, 9.5, 2);
makePanel('xgb', 'XGBoost', xgbPoints, -1.42, 47.57, xgbXTicks, 10, 59, 16.2, 8.4);
</script>
</body>
</html>
